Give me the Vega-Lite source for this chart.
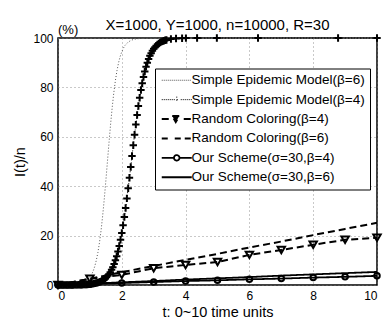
{
  "$schema": "https://vega.github.io/schema/vega-lite/v6.json",
  "width": 319,
  "height": 247,
  "autosize": "none",
  "padding": {"left": 58, "top": 38, "right": 8, "bottom": 35},
  "background": "white",
  "title": {"text": "X=1000, Y=1000, n=10000, R=30", "fontSize": 15, "font": "Liberation Sans", "fontWeight": "normal", "color": "black", "offset": 10, "dy": 19},
  "config": {
    "font": "Liberation Sans",
    "view": {"stroke": "black", "strokeWidth": 1.5},
    "axis": {"labelFont": "Liberation Sans", "labelColor": "black", "labelFontSize": 12, "titleFont": "Liberation Sans", "titleFontWeight": "normal", "titleColor": "black", "titleFontSize": 14.5, "domain": false, "ticks": false, "grid": true, "gridDash": [1, 3], "gridColor": "#777", "gridWidth": 0.8}
  },
  "datasets": {
    "curves": [
      {"s":"SEM6","t":0,"v":0.01},{"s":"SEM6","t":0.2,"v":0.02},{"s":"SEM6","t":0.4,"v":0.07},{"s":"SEM6","t":0.6,"v":0.25},{"s":"SEM6","t":0.8,"v":0.88},{"s":"SEM6","t":0.9,"v":1.64},{"s":"SEM6","t":1,"v":3.03},{"s":"SEM6","t":1.05,"v":4.11},{"s":"SEM6","t":1.1,"v":5.55},{"s":"SEM6","t":1.15,"v":7.45},{"s":"SEM6","t":1.2,"v":9.93},{"s":"SEM6","t":1.25,"v":13.12},{"s":"SEM6","t":1.3,"v":17.15},{"s":"SEM6","t":1.35,"v":22.1},{"s":"SEM6","t":1.4,"v":27.99},{"s":"SEM6","t":1.45,"v":34.75},{"s":"SEM6","t":1.5,"v":42.19},{"s":"SEM6","t":1.55,"v":50},{"s":"SEM6","t":1.6,"v":57.81},{"s":"SEM6","t":1.65,"v":65.25},{"s":"SEM6","t":1.7,"v":72.01},{"s":"SEM6","t":1.75,"v":77.9},{"s":"SEM6","t":1.8,"v":82.85},{"s":"SEM6","t":1.85,"v":86.88},{"s":"SEM6","t":1.9,"v":90.07},{"s":"SEM6","t":1.95,"v":92.55},{"s":"SEM6","t":2,"v":94.45},{"s":"SEM6","t":2.05,"v":95.89},{"s":"SEM6","t":2.1,"v":96.97},{"s":"SEM6","t":2.2,"v":98.36},{"s":"SEM6","t":2.3,"v":99.12},{"s":"SEM6","t":2.4,"v":99.53},{"s":"SEM6","t":2.6,"v":99.87},{"s":"SEM6","t":2.8,"v":99.96},{"s":"SEM6","t":3,"v":99.99},{"s":"SEM6","t":10,"v":100},
      {"s":"SEM4","t":0,"v":0},{"s":"SEM4","t":0.04,"v":0},{"s":"SEM4","t":0.08,"v":0.01},{"s":"SEM4","t":0.12,"v":0.01},{"s":"SEM4","t":0.16,"v":0.01},{"s":"SEM4","t":0.2,"v":0.01},{"s":"SEM4","t":0.24,"v":0.01},{"s":"SEM4","t":0.28,"v":0.01},{"s":"SEM4","t":0.32,"v":0.02},{"s":"SEM4","t":0.36,"v":0.02},{"s":"SEM4","t":0.4,"v":0.02},{"s":"SEM4","t":0.44,"v":0.03},{"s":"SEM4","t":0.48,"v":0.03},{"s":"SEM4","t":0.52,"v":0.04},{"s":"SEM4","t":0.56,"v":0.05},{"s":"SEM4","t":0.6,"v":0.06},{"s":"SEM4","t":0.64,"v":0.07},{"s":"SEM4","t":0.68,"v":0.08},{"s":"SEM4","t":0.72,"v":0.1},{"s":"SEM4","t":0.76,"v":0.11},{"s":"SEM4","t":0.8,"v":0.14},{"s":"SEM4","t":0.84,"v":0.16},{"s":"SEM4","t":0.88,"v":0.19},{"s":"SEM4","t":0.92,"v":0.23},{"s":"SEM4","t":0.96,"v":0.27},{"s":"SEM4","t":1,"v":0.33},{"s":"SEM4","t":1.04,"v":0.39},{"s":"SEM4","t":1.08,"v":0.46},{"s":"SEM4","t":1.12,"v":0.55},{"s":"SEM4","t":1.16,"v":0.66},{"s":"SEM4","t":1.2,"v":0.78},{"s":"SEM4","t":1.24,"v":0.93},{"s":"SEM4","t":1.28,"v":1.11},{"s":"SEM4","t":1.32,"v":1.32},{"s":"SEM4","t":1.36,"v":1.57},{"s":"SEM4","t":1.4,"v":1.87},{"s":"SEM4","t":1.44,"v":2.22},{"s":"SEM4","t":1.48,"v":2.64},{"s":"SEM4","t":1.52,"v":3.13},{"s":"SEM4","t":1.56,"v":3.71},{"s":"SEM4","t":1.6,"v":4.39},{"s":"SEM4","t":1.64,"v":5.2},{"s":"SEM4","t":1.68,"v":6.13},{"s":"SEM4","t":1.72,"v":7.23},{"s":"SEM4","t":1.76,"v":8.5},{"s":"SEM4","t":1.8,"v":9.98},{"s":"SEM4","t":1.84,"v":11.67},{"s":"SEM4","t":1.88,"v":13.61},{"s":"SEM4","t":1.92,"v":15.82},{"s":"SEM4","t":1.96,"v":18.3},{"s":"SEM4","t":2,"v":21.08},{"s":"SEM4","t":2.04,"v":24.16},{"s":"SEM4","t":2.08,"v":27.53},{"s":"SEM4","t":2.12,"v":31.17},{"s":"SEM4","t":2.16,"v":35.07},{"s":"SEM4","t":2.2,"v":39.17},{"s":"SEM4","t":2.24,"v":43.44},{"s":"SEM4","t":2.28,"v":47.8},{"s":"SEM4","t":2.32,"v":52.2},{"s":"SEM4","t":2.36,"v":56.56},{"s":"SEM4","t":2.4,"v":60.83},{"s":"SEM4","t":2.44,"v":64.93},{"s":"SEM4","t":2.48,"v":68.83},{"s":"SEM4","t":2.52,"v":72.47},{"s":"SEM4","t":2.56,"v":75.84},{"s":"SEM4","t":2.6,"v":78.92},{"s":"SEM4","t":2.64,"v":81.7},{"s":"SEM4","t":2.68,"v":84.18},{"s":"SEM4","t":2.72,"v":86.39},{"s":"SEM4","t":2.76,"v":88.33},{"s":"SEM4","t":2.8,"v":90.03},{"s":"SEM4","t":2.84,"v":91.5},{"s":"SEM4","t":2.88,"v":92.77},{"s":"SEM4","t":2.92,"v":93.86},{"s":"SEM4","t":2.96,"v":94.8},{"s":"SEM4","t":3,"v":95.6},{"s":"SEM4","t":3.04,"v":96.29},{"s":"SEM4","t":3.08,"v":96.87},{"s":"SEM4","t":3.12,"v":97.36},{"s":"SEM4","t":3.16,"v":97.78},{"s":"SEM4","t":3.2,"v":98.13},{"s":"SEM4","t":3.24,"v":98.43},{"s":"SEM4","t":3.28,"v":98.68},{"s":"SEM4","t":3.32,"v":98.89},{"s":"SEM4","t":3.36,"v":99.07},{"s":"SEM4","t":3.4,"v":99.22},{"s":"SEM4","t":3.54,"v":99.58},{"s":"SEM4","t":3.7,"v":99.79},{"s":"SEM4","t":3.89,"v":99.91},{"s":"SEM4","t":4.01,"v":99.95},{"s":"SEM4","t":4.36,"v":99.99},{"s":"SEM4","t":4.98,"v":100},{"s":"SEM4","t":6.27,"v":100},{"s":"SEM4","t":8.78,"v":100},{"s":"SEM4","t":10,"v":100},
      {"s":"RC4","t":0,"v":0},{"s":"RC4","t":1,"v":2.5},{"s":"RC4","t":2,"v":4.1},{"s":"RC4","t":3,"v":6.8},{"s":"RC4","t":4,"v":8.1},{"s":"RC4","t":5,"v":9.3},{"s":"RC4","t":6,"v":12.2},{"s":"RC4","t":7,"v":14.2},{"s":"RC4","t":8,"v":16.3},{"s":"RC4","t":9,"v":18.3},{"s":"RC4","t":10,"v":19.1},
      {"s":"RC6","t":0,"v":0},{"s":"RC6","t":1,"v":2.5},{"s":"RC6","t":2,"v":5.2},{"s":"RC6","t":3,"v":7.7},{"s":"RC6","t":4,"v":10.2},{"s":"RC6","t":5,"v":12.6},{"s":"RC6","t":6,"v":15.2},{"s":"RC6","t":7,"v":17.6},{"s":"RC6","t":8,"v":20.2},{"s":"RC6","t":9,"v":22.7},{"s":"RC6","t":10,"v":25.2},
      {"s":"OS4","t":0,"v":0},{"s":"OS4","t":1,"v":0.4},{"s":"OS4","t":2,"v":0.8},{"s":"OS4","t":3,"v":1.2},{"s":"OS4","t":4,"v":1.6},{"s":"OS4","t":5,"v":1.9},{"s":"OS4","t":6,"v":2.3},{"s":"OS4","t":7,"v":2.6},{"s":"OS4","t":8,"v":3.0},{"s":"OS4","t":9,"v":3.3},{"s":"OS4","t":10,"v":3.7},
      {"s":"OS6","t":0,"v":0},{"s":"OS6","t":1,"v":0.5},{"s":"OS6","t":2,"v":1.1},{"s":"OS6","t":3,"v":1.6},{"s":"OS6","t":4,"v":2.2},{"s":"OS6","t":5,"v":2.7},{"s":"OS6","t":6,"v":3.2},{"s":"OS6","t":7,"v":3.8},{"s":"OS6","t":8,"v":4.3},{"s":"OS6","t":9,"v":4.8},{"s":"OS6","t":10,"v":5.3}
    ]
  },
  "layer": [
    {
      "data": {"name": "curves"},
      "mark": {"type": "line", "clip": false},
      "encoding": {
        "x": {"field": "t", "type": "quantitative", "scale": {"domain": [0, 10], "nice": false}, "axis": {"values": [0, 2, 4, 6, 8, 10], "title": "t: 0~10 time units", "labelPadding": 5, "titlePadding": 4}},
        "y": {"field": "v", "type": "quantitative", "scale": {"domain": [0, 100], "nice": false}, "axis": {"values": [0, 20, 40, 60, 80, 100], "title": "I(t)/n", "labelPadding": 5, "titlePadding": 5}},
        "color": {
          "field": "s", "type": "nominal",
          "scale": {"domain": ["SEM6", "SEM4", "RC4", "RC6", "OS4", "OS6"], "range": ["#555555", "black", "black", "black", "black", "black"]},
          "legend": {
            "title": null, "orient": "none", "legendX": 97, "legendY": 30.5,
            "strokeColor": "black", "fillColor": "white", "padding": 5,
            "labelFont": "Liberation Sans", "labelFontSize": 13.5, "labelColor": "black", "labelOffset": 18, "labelLimit": 400,
            "symbolSize": 100, "rowPadding": 4.4,
            "labelExpr": "{'SEM6':'Simple Epidemic Model(β=6)','SEM4':'Simple Epidemic Model(β=4)','RC4':'Random Coloring(β=4)','RC6':'Random Coloring(β=6)','OS4':'Our Scheme(σ=30,β=4)','OS6':'Our Scheme(σ=30,β=6)'}[datum.label]",
            "encode": {
              "symbols": {
                "update": {
                  "shape": {"signal": "['M-1,0L-0.8,0M-0.6,0L-0.4,0M-0.2,0L0,0M0.2,0L0.4,0M0.6,0L0.8,0M1,0L1.2,0M1.4,0L1.6,0M1.8,0L2,0M2.2,0L2.4,0M2.6,0L2.8,0M3,0L3.2,0M3.4,0L3.6,0M3.8,0L4,0M4.2,0L4.4,0M4.6,0L4.8,0', 'M-1,0L-0.8,0M-0.6,0L-0.4,0M-0.2,0L0,0M0.2,0L0.4,0M0.6,0L0.8,0M1,0L1.2,0M2.8,0L3,0M3.2,0L3.4,0M3.6,0L3.8,0M4,0L4.2,0M4.4,0L4.6,0M4.8,0L5,0M1.4,0L2.6,0M2,-0.6L2,0.6', 'M-1,0L0.4,0M3.4,0L4.8,0M1.1,-0.6L2.5,-0.6L1.8,0.6Z', 'M-1,0L0.2,0M1.6,0L2.8,0M3.6,0L4.8,0', 'M-1,0L1.45,0M2.55,0L5,0M2.55,0A0.55,0.55,0,1,1,1.45,0A0.55,0.55,0,1,1,2.55,0', 'M-1,0L5,0'][datum.index]"},
                  "stroke": {"value": "black"},
                  "strokeDash": {"value": [1, 0]},
                  "strokeWidth": {"signal": "[1, 1.6, 1.8, 1.8, 1.5, 1.5][datum.index]"},
                  "fill": {"signal": "['transparent','transparent','black','transparent','transparent','transparent'][datum.index]"},
                  "size": {"value": 100},
                  "opacity": {"value": 1}
                }
              }
            }
          }
        },
        "strokeDash": {"field": "s", "type": "nominal", "scale": {"domain": ["SEM6", "SEM4", "RC4", "RC6", "OS4", "OS6"], "range": [[1, 2], [1, 2], [7, 4], [7, 4], [1, 0], [1, 0]]}, "legend": null},
        "strokeWidth": {"field": "s", "type": "nominal", "scale": {"type": "ordinal", "domain": ["SEM6", "SEM4", "RC4", "RC6", "OS4", "OS6"], "range": [1, 1, 2, 2, 1.8, 1.8]}, "legend": null}
      }
    },
    {
      "data": {"name": "curves"},
      "transform": [{"filter": {"field": "s", "oneOf": ["SEM4", "RC4", "OS4"]}}],
      "mark": {"type": "point", "filled": false, "stroke": "black", "strokeWidth": 2, "opacity": 1, "clip": false},
      "encoding": {
        "x": {"field": "t", "type": "quantitative"},
        "y": {"field": "v", "type": "quantitative"},
        "shape": {"field": "s", "type": "nominal", "scale": {"domain": ["SEM4", "RC4", "OS4"], "range": ["M-1,0L1,0M0,-1L0,1", "triangle-down", "circle"]}, "legend": null},
        "size": {"field": "s", "type": "nominal", "scale": {"type": "ordinal", "domain": ["SEM4", "RC4", "OS4"], "range": [55, 55, 30]}, "legend": null}
      }
    },
    {
      "data": {"values": [{"u": "(%)"}]},
      "mark": {"type": "text", "align": "left", "baseline": "bottom", "fontSize": 13, "font": "Liberation Sans", "color": "black", "dy": -1},
      "encoding": {
        "x": {"datum": 0, "type": "quantitative"},
        "y": {"datum": 100, "type": "quantitative"},
        "text": {"field": "u"}
      }
    }
  ]
}
